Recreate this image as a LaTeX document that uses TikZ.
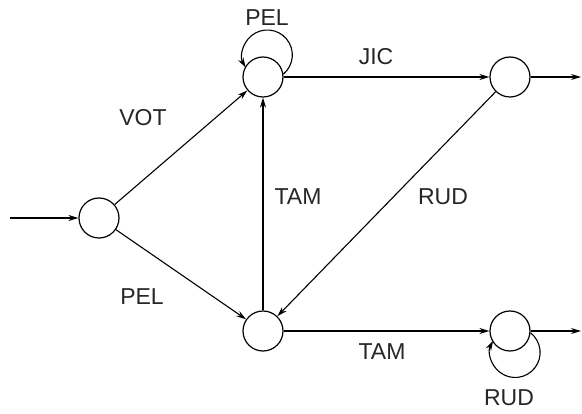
\documentclass[tikz,border=0pt]{standalone}
\usepackage{fontspec}
\setmainfont{Liberation Sans}
\usetikzlibrary{arrows.meta}
\begin{document}
\begin{tikzpicture}[x=1pt,y=1pt,
  state/.style={circle,draw,line width=1.2pt,minimum size=40pt,inner sep=0pt},
  arr/.style={line width=1.1pt,-{Stealth[length=10pt,width=6pt]}},
  lbl/.style={inner sep=0pt,font=\fontsize{23}{26}\selectfont,text=black!85}]
\useasboundingbox (0,0) rectangle (582,-414);
\node[state] (A) at (99,-218) {};
\node[state] (B) at (263,-77) {};
\node[state] (C) at (510,-77) {};
\node[state] (D) at (263,-331) {};
\node[state] (E) at (510,-331) {};
\coordinate (in) at (10,-218);
\coordinate (outC) at (581,-77);
\coordinate (outE) at (581,-331);

\draw[arr] (in) -- (A);
\draw[arr] (A) -- (B);
\draw[arr] (A) -- (D);
\draw[arr] (B) -- (C);
\draw[arr] (D) -- (B);
\draw[arr] (C) -- (D);
\draw[arr] (D) -- (E);
\draw[arr] (C) -- (outC);
\draw[arr] (E) -- (outE);
\draw[arr] (B.8) arc[start angle=-50,end angle=210,radius=25];
\draw[arr] (E.-5) arc[start angle=52,end angle=-208,radius=25];

\node[lbl] (l1) at (267,-18) {PEL};
\node[lbl] (l2) at (376,-57) {JIC};
\node[lbl] (l3) at (143,-118) {VOT};
\node[lbl] (l4) at (298,-197) {TAM};
\node[lbl] (l5) at (443,-197) {RUD};
\node[lbl] (l6) at (142,-297) {PEL};
\node[lbl] (l7) at (382,-352) {TAM};
\node[lbl] (l8) at (509,-398) {RUD};
\end{tikzpicture}
\end{document}
